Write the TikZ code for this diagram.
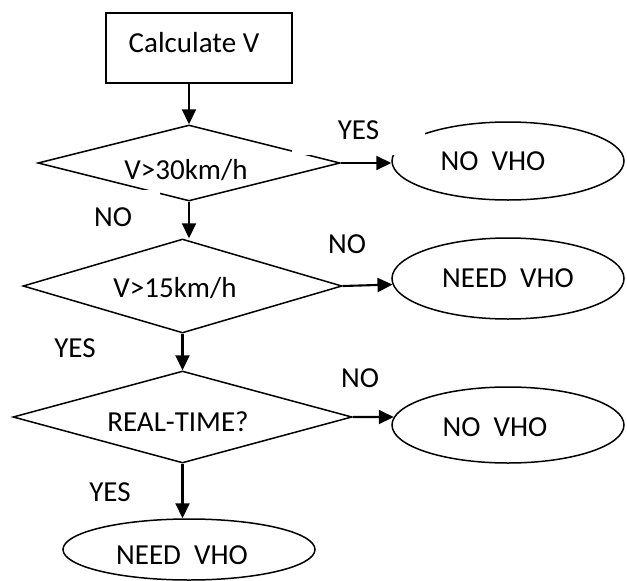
\documentclass[tikz,border=0pt]{standalone}
\usepackage{fontspec}
\setmainfont{Carlito}
\usetikzlibrary{shapes.geometric,arrows.meta}

\tikzset{
  txt/.style={font=\fontsize{29}{35}\selectfont, inner sep=0pt},
  shapeline/.style={draw=black, line width=1.5pt, inner sep=0pt},
  procbox/.style={shapeline, rectangle},
  decision/.style={shapeline, diamond},
  terminal/.style={shapeline, ellipse},
  flow/.style={draw=black, line width=2.1pt, -{Triangle[length=15pt,width=14pt]}},
  branch/.style={txt, fill=white},
}

\begin{document}
\begin{tikzpicture}[x=1pt, y=-1pt]
  \useasboundingbox (0,0) rectangle (627,581);

  % process box and decisions
  \node[procbox, minimum width=186pt, minimum height=70pt] (calc) at (199,48) {};
  \node[decision, minimum width=302pt, minimum height=76pt] (d1) at (189,163) {};
  \node[decision, minimum width=319pt, minimum height=94pt] (d2) at (182.5,286) {};
  \node[decision, minimum width=339pt, minimum height=92pt] (d3) at (182.5,417) {};

  % outcomes
  \node[terminal, minimum width=232pt, minimum height=78pt] (e1) at (508,161) {};
  \node[terminal, minimum width=232pt, minimum height=81pt] (e2) at (508,278.5) {};
  \node[terminal, minimum width=232pt, minimum height=76pt] (e4) at (508,425) {};
  \node[terminal, minimum width=252pt, minimum height=61pt] (e3) at (189,549.5) {};

  % texts inside the shapes
  \node[txt] (tcalc) at (194,43) {Calculate V};
  \node[txt] (td1) at (186,170) {V>30km/h};
  \node[txt] (td2) at (175,288) {V>15km/h};
  \node[txt] (td3) at (178,422) {REAL-TIME?};
  \node[txt] (te1) at (493,161) {NO\ \ VHO};
  \node[txt] (te2) at (508,278) {NEED\ \ VHO};
  \node[txt] (te4) at (495,427) {NO\ \ VHO};
  \node[txt] (te3) at (182,555) {NEED\ \ VHO};

  % branch labels (white text boxes)
  \node[branch, minimum width=133pt, minimum height=50pt] (l1) at (358.5,130) {YES};
  \node[branch, minimum width=94pt, minimum height=54pt] (l2) at (113,217) {NO};
  \node[txt] (l3) at (347,244) {NO};
  \node[txt] (l4) at (75,348) {YES};
  \node[txt] (l5) at (360,378) {NO};
  \node[txt] (l6) at (110,492) {YES};

  % connectors
  \draw[flow] (d1.north |- calc.south) -- (d1.north);
  \draw[flow] (d1.south) -- (d1.south |- d2.north);
  \draw[flow] (d2.south) -- (d3.north);
  \draw[flow] (d3.south) -- (d3.south |- e3.north);
  \draw[flow] (d1.east) -- (d1.east -| e1.west);
  \draw[flow] (d2.east) -- (e2.183);
  \draw[flow] (d3.east) -- (e4.176);
\end{tikzpicture}
\end{document}
